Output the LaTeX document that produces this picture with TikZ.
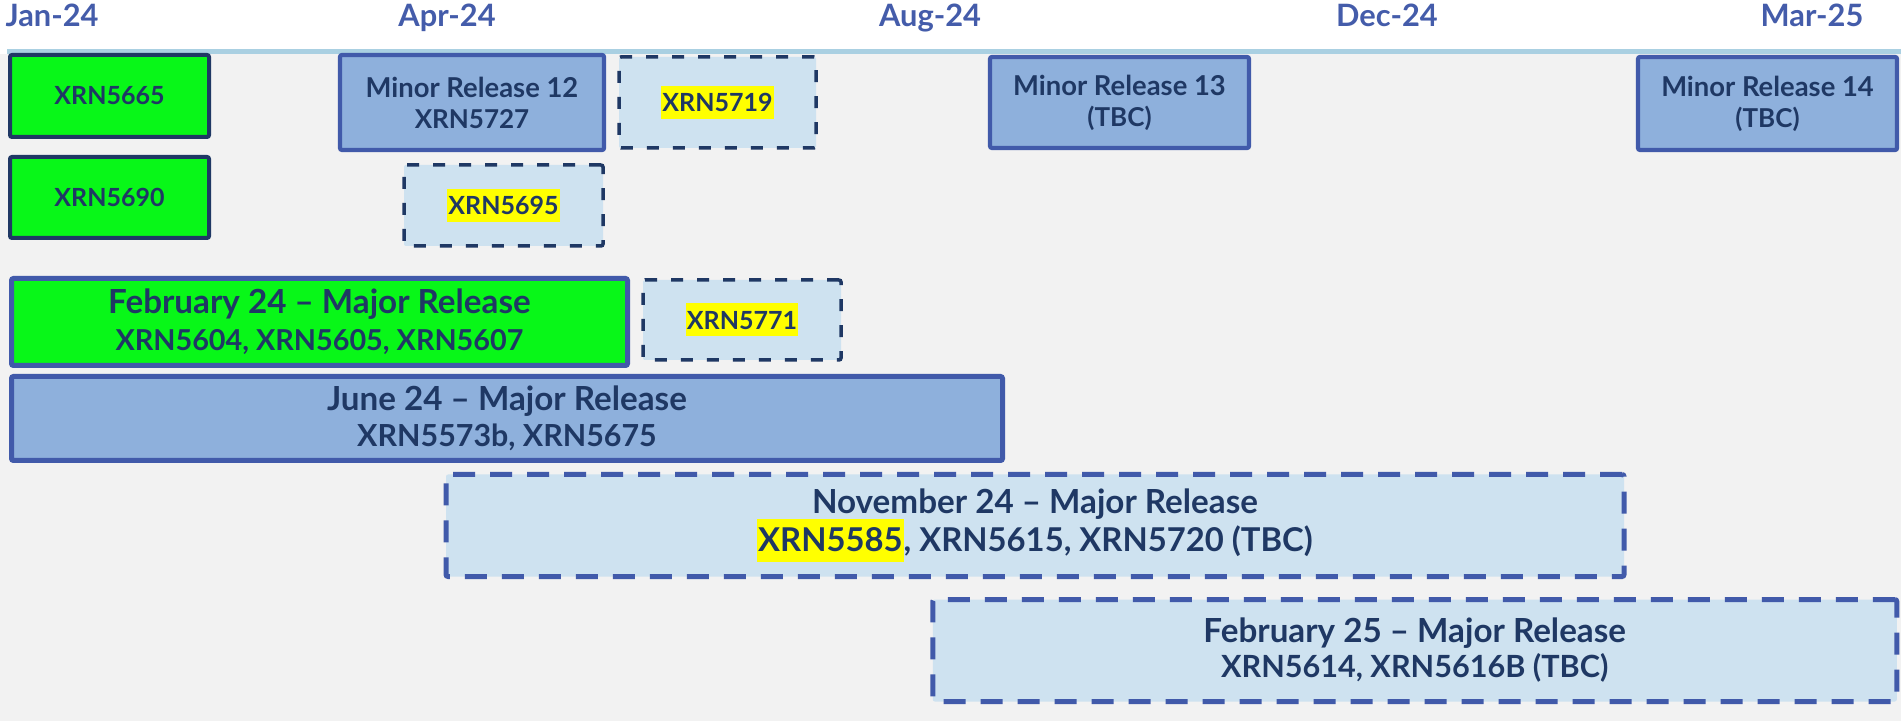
\documentclass[tikz,border=0pt]{standalone}
\usepackage{fontspec}
\setmainfont{Lato}
\definecolor{navy}{RGB}{31,56,100}
\definecolor{rblue}{RGB}{65,90,170}
\definecolor{monthblue}{RGB}{68,92,170}
\definecolor{midblue}{RGB}{142,176,220}
\definecolor{lightblue}{RGB}{206,226,240}
\definecolor{brgreen}{RGB}{8,247,24}
\definecolor{bggray}{RGB}{242,242,242}
\definecolor{tlblue}{RGB}{170,208,226}
\definecolor{hlyellow}{RGB}{255,255,0}
\newcommand{\hlsmall}[1]{{\setlength{\fboxsep}{0pt}\colorbox{hlyellow}{\rule[-3.5pt]{0pt}{16.5pt}\kern0.5pt#1\kern0.5pt}}}
\newcommand{\hlbig}[1]{{\setlength{\fboxsep}{0pt}\colorbox{hlyellow}{\rule[-5pt]{0pt}{21.5pt}\kern0.5pt#1\kern0.5pt}}}
\newcommand{\majfont}[2]{\bfseries\fontsize{#1}{#2}\selectfont\setlength{\lineskiplimit}{-20pt}}
\newcommand{\ttl}[1]{{\fontsize{16.6}{18.5}\selectfont #1}}
\newcommand{\mrl}[1]{{\fontsize{13.7}{15.5}\selectfont #1}}
\tikzset{
  boxbase/.style={rectangle, inner sep=0pt, align=center, text=navy, rounded corners=1pt},
  greenbox/.style={boxbase, draw=navy, line width=2pt, fill=brgreen, font=\bfseries\fontsize{12.5}{15}\selectfont},
  minorbox/.style={boxbase, draw=rblue, line width=2.1pt, fill=midblue, font={\majfont{13}{15.5}}},
  dashsmall/.style={boxbase, draw=navy, line width=1.75pt, dash pattern=on 6pt off 7pt, fill=lightblue, font=\bfseries\fontsize{12.5}{15}\selectfont},
  majorgreen/.style={boxbase, draw=rblue, line width=2.5pt, fill=brgreen},
  majorblue/.style={boxbase, draw=rblue, line width=2.5pt, fill=midblue},
  dashbig/.style={boxbase, draw=rblue, line width=2.5pt, dash pattern=on 11pt off 7.5pt, fill=lightblue},
  monthlabel/.style={anchor=base, inner sep=0pt, text=monthblue, font=\bfseries\fontsize{15.4}{18}\selectfont},
  timeline/.style={draw=tlblue, line width=2.5pt}
}
\begin{document}
\begin{tikzpicture}[x=0.5pt,y=-0.5pt]
\useasboundingbox (0,0) rectangle (1901,721);
\fill[white] (0,0) rectangle (1901,721);
\fill[bggray] (0,54) rectangle (1901,721);
\coordinate (tlstart) at (7,51.5);
\coordinate (tlend) at (1901,51.5);
\draw[timeline] (tlstart) -- (tlend);

% month labels
\node[monthlabel] (mjan) at (52,27) {Jan-24};
\node[monthlabel] (mapr) at (447,27) {Apr-24};
\node[monthlabel] (maug) at (930,27) {Aug-24};
\node[monthlabel] (mdec) at (1387,27) {Dec-24};
\node[monthlabel] (mmar) at (1812,27) {Mar-25};

% small boxes
\node[greenbox, minimum width=99.5pt, minimum height=41pt] (x5665) at (109.5,96) {XRN5665};
\node[greenbox, minimum width=99.5pt, minimum height=40.5pt] (x5690) at (109.5,197.5) {XRN5690};
\node[minorbox, minimum width=132pt, minimum height=47.5pt] (mr12) at (472,102.5) {\mrl{Minor Release 12}\\XRN5727};
\node[dashsmall, minimum width=98.5pt, minimum height=45.5pt] (x5719) at (717.5,102.5) {\hlsmall{XRN5719}};
\node[dashsmall, minimum width=99.5pt, minimum height=40.5pt] (x5695) at (503.5,205.5) {\hlsmall{XRN5695}};
\node[minorbox, minimum width=129.5pt, minimum height=45.5pt] (mr13) at (1119.5,102.5) {\mrl{Minor Release 13}\\(TBC)};
\node[minorbox, minimum width=129.5pt, minimum height=46.5pt] (mr14) at (1767.5,103.5) {\mrl{Minor Release 14}\\(TBC)};

% major releases
\node[majorgreen, font={\majfont{14.4}{18.5}}, minimum width=308pt, minimum height=43.5pt] (feb24) at (319.5,322) {\ttl{February 24 – Major Release}\\XRN5604, XRN5605, XRN5607};
\node[dashsmall, minimum width=99pt, minimum height=40pt] (x5771) at (742,320) {\hlsmall{XRN5771}};
\node[majorblue, font={\majfont{15.2}{18}}, minimum width=495.5pt, minimum height=42pt] (jun24) at (507,418.5) {\ttl{June 24 – Major Release}\\XRN5573b, XRN5675};
\node[dashbig, font={\majfont{16.4}{19}}, minimum width=589pt, minimum height=51pt] (nov24) at (1035,525.5) {\ttl{November 24 – Major Release}\\\hlbig{XRN5585}, XRN5615, XRN5720 (TBC)};
\node[dashbig, font={\majfont{15.3}{17.5}}, minimum width=482pt, minimum height=51pt] (feb25) at (1414.75,650.5) {\ttl{February 25 – Major Release}\\XRN5614, XRN5616B (TBC)};
\end{tikzpicture}
\end{document}
